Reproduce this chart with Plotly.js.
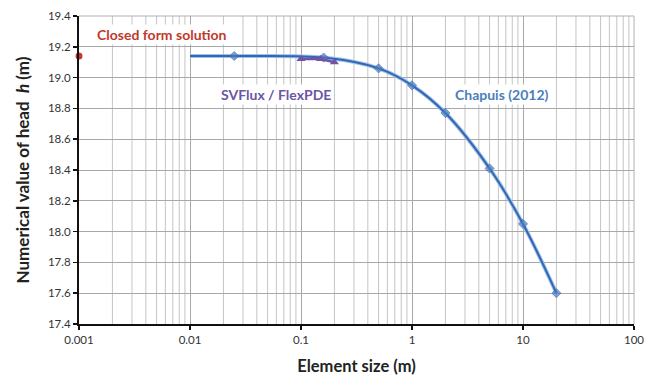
<!DOCTYPE html>
<html>
<head>
<meta charset="utf-8">
<script src="https://cdn.plot.ly/plotly-3.0.1.min.js"></script>
<style>html,body{margin:0;padding:0;background:#fff;}#chart{width:648px;height:376px;}</style>
</head>
<body>
<div id="chart"></div>
<script>
// Data
var chapuisX = [0.01, 0.025, 0.16, 0.5, 1, 2, 5, 10, 20];
var chapuisY = [19.14, 19.14, 19.13, 19.06, 18.95, 18.77, 18.41, 18.05, 17.60];
var chapuisMarkerSize = [0, 7, 7, 7, 7, 7, 7, 7, 7];
var svfluxX = [0.1, 0.15, 0.2];
var svfluxY = [19.12, 19.12, 19.10];
var closedX = [0.001];
var closedY = [19.14];
var xTickVals = [0.001, 0.01, 0.1, 1, 10, 100];
var xTickText = ['0.001', '0.01', '0.1', '1', '10', '100'];
var yTickVals = [17.4, 17.6, 17.8, 18.0, 18.2, 18.4, 18.6, 18.8, 19.0, 19.2, 19.4];

// minor gridlines positions (2..9 within each decade)
var minorX = [];
for (var d = -3; d < 2; d++) {
  for (var m = 2; m <= 9; m++) minorX.push(m * Math.pow(10, d));
}
var shapes = minorX.map(function (v) {
  return {type: 'line', xref: 'x', yref: 'paper', x0: v, x1: v, y0: 0, y1: 1,
          line: {color: '#c4c4c4', width: 1}, layer: 'below'};
});
shapes.push({type: 'line', xref: 'paper', yref: 'paper', x0: 0, x1: 1, y0: 1, y1: 1,
             line: {color: '#b0b0b0', width: 1}, layer: 'below'});
shapes.push({type: 'line', xref: 'paper', yref: 'paper', x0: 1, x1: 1, y0: 0, y1: 1,
             line: {color: '#b0b0b0', width: 1}, layer: 'below'});

var traces = [
  {x: chapuisX, y: chapuisY, mode: 'lines', line: {color: '#9cc0ec', width: 4, shape: 'spline'},
   hoverinfo: 'skip', showlegend: false},
  {x: chapuisX, y: chapuisY, mode: 'lines+markers', name: 'Chapuis (2012)',
   line: {color: '#3567b0', width: 2, shape: 'spline'},
   marker: {symbol: 'diamond', size: chapuisMarkerSize, color: '#4a7cc4'}},
  {x: svfluxX, y: svfluxY, mode: 'lines+markers', name: 'SVFlux / FlexPDE',
   line: {color: '#6f54a8', width: 2.5},
   marker: {symbol: 'triangle-up', size: 8, color: '#6f54a8'}},
  {x: closedX, y: closedY, mode: 'markers', name: 'Closed form solution',
   marker: {symbol: 'circle', size: 7, color: '#c8372d'}, cliponaxis: false}
];

var layout = {
  width: 648, height: 376,
  margin: {l: 79, r: 14, t: 16, b: 52},
  paper_bgcolor: '#ffffff', plot_bgcolor: '#ffffff',
  showlegend: false,
  font: {family: 'Lato, "Open Sans", sans-serif', color: '#333'},
  xaxis: {
    type: 'log', range: [-3, 2],
    tickvals: xTickVals, ticktext: xTickText,
    tickfont: {size: 11.5, color: '#333'},
    showgrid: true, gridcolor: '#a8a8a8', gridwidth: 1,
    showline: true, linecolor: '#111', linewidth: 2,
    ticks: 'outside', ticklen: 4, tickcolor: '#111', tickwidth: 1.5,
    zeroline: false,
    title: {text: 'Element size (m)', font: {size: 16.5, color: '#222', family: 'Lato, sans-serif', weight: 'bold'}, standoff: 20}
  },
  yaxis: {
    range: [17.4, 19.4],
    tickvals: yTickVals, tickformat: '.1f',
    tickfont: {size: 11.5, color: '#333'},
    showgrid: true, gridcolor: '#a8a8a8', gridwidth: 1,
    showline: true, linecolor: '#111', linewidth: 2,
    ticks: 'outside', ticklen: 4, tickcolor: '#111', tickwidth: 1.5,
    zeroline: false,
    title: {text: 'Numerical value of head  <i>h</i> (m)', font: {size: 17, color: '#222', family: 'Lato, sans-serif', weight: 'bold'}, standoff: 14}
  },
  shapes: shapes,
  annotations: [
    {text: '<b>Closed form solution</b>', xref: 'paper', yref: 'paper', x: 0.028, y: 0.94,
     xanchor: 'left', yanchor: 'middle', showarrow: false,
     font: {size: 14, color: '#c0392b', family: 'Lato, sans-serif'}, bgcolor: '#ffffff'},
    {text: '<b>SVFlux / FlexPDE</b>', xref: 'paper', yref: 'paper', x: 0.355, y: 0.744,
     xanchor: 'center', yanchor: 'middle', showarrow: false,
     font: {size: 14, color: '#6a56a6', family: 'Lato, sans-serif'}, bgcolor: '#ffffff'},
    {text: '<b>Chapuis (2012)</b>', xref: 'paper', yref: 'paper', x: 0.762, y: 0.744,
     xanchor: 'center', yanchor: 'middle', showarrow: false,
     font: {size: 14, color: '#4a7ebb', family: 'Lato, sans-serif'}, bgcolor: '#ffffff'}
  ]
};

Plotly.newPlot('chart', traces, layout, {staticPlot: true, displayModeBar: false});
</script>
</body>
</html>
